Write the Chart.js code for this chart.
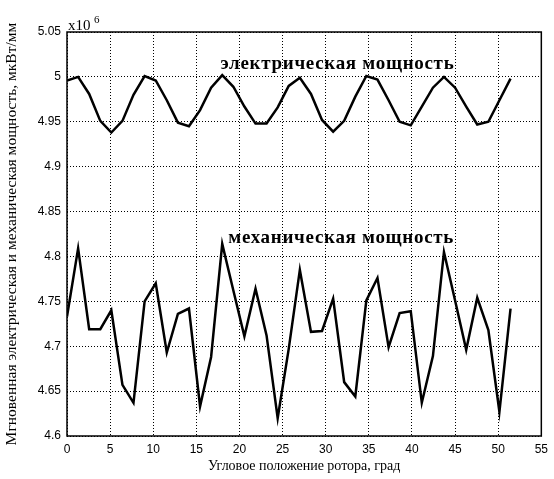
<!DOCTYPE html>
<html>
<head>
<meta charset="utf-8">
<script src="https://cdn.jsdelivr.net/npm/chart.js@4.4.1/dist/chart.umd.min.js"></script>
<style>
  html, body { margin: 0; padding: 0; background: #fff; }
  #wrap { width: 554px; height: 479px; }
</style>
</head>
<body>
<div id="wrap"><canvas id="chart-power"></canvas></div>
<script>
// rotor angle, deg
const angle = [0, 1.29, 2.57, 3.86, 5.14, 6.43, 7.71, 9.0, 10.29, 11.57, 12.86, 14.14, 15.43, 16.71,
    18.0, 19.29, 20.57, 21.86, 23.14, 24.43, 25.71, 27.0, 28.29, 29.57, 30.86, 32.14, 33.43, 34.71,
    36.0, 37.29, 38.57, 39.86, 41.14, 42.43, 43.71, 45.0, 46.29, 47.57, 48.86, 50.14, 51.43];

// x10^6
const electricPower = [4.996, 5.000, 4.981, 4.951, 4.938, 4.951, 4.980, 5.001, 4.996, 4.974, 4.949,
    4.945, 4.963, 4.988, 5.002, 4.989, 4.967, 4.948, 4.948, 4.966, 4.990, 4.999, 4.981, 4.952, 4.939,
    4.951, 4.978, 5.001, 4.997, 4.974, 4.950, 4.946, 4.967, 4.988, 5.000, 4.988, 4.967, 4.947, 4.950,
    4.974, 4.998];

const mechanicPower = [4.733, 4.809, 4.719, 4.719, 4.740, 4.657, 4.637, 4.750, 4.770, 4.693, 4.736,
    4.742, 4.633, 4.688, 4.814, 4.762, 4.711, 4.764, 4.712, 4.620, 4.697, 4.785, 4.716, 4.717, 4.753,
    4.660, 4.644, 4.751, 4.776, 4.699, 4.737, 4.739, 4.637, 4.689, 4.805, 4.751, 4.696, 4.754, 4.718,
    4.627, 4.742];

const seriesLabels = ["электрическая мощность", "механическая мощность"];

function toPoints(ys) {
    return angle.map((a, i) => ({ x: a, y: ys[i] }));
}

// frame, curve labels and the x10^6 multiplier
const decorations = {
    id: 'decorations',
    afterDraw(chart) {
        const ctx = chart.ctx;
        const area = chart.chartArea;
        const xs = chart.scales.x;
        const ys = chart.scales.y;
        ctx.save();
        ctx.strokeStyle = '#000';
        ctx.lineWidth = 1.5;
        ctx.strokeRect(area.left, area.top, area.right - area.left, area.bottom - area.top);

        ctx.fillStyle = '#000';
        ctx.font = 'bold 19px "Liberation Serif"';
        ctx.letterSpacing = '0.7px';
        ctx.textAlign = 'left';
        ctx.textBaseline = 'alphabetic';
        ctx.fillText(seriesLabels[0], xs.getPixelForValue(17.8), ys.getPixelForValue(5.009));
        ctx.fillText(seriesLabels[1], xs.getPixelForValue(18.7), ys.getPixelForValue(4.815));

        ctx.letterSpacing = '0px';
        ctx.font = '15px "Liberation Serif"';
        ctx.fillText('x10', area.left + 1, area.top - 2);
        ctx.font = '11px "Liberation Serif"';
        ctx.fillText('6', area.left + 27, area.top - 9);
        ctx.restore();
    }
};

const config_power_chart = {
    type: 'scatter',
    data: {
        datasets: [
            {
                label: seriesLabels[0],
                data: toPoints(electricPower),
                showLine: true,
                borderColor: '#000',
                borderWidth: 2.5,
                pointRadius: 0,
                tension: 0
            },
            {
                label: seriesLabels[1],
                data: toPoints(mechanicPower),
                showLine: true,
                borderColor: '#000',
                borderWidth: 2.5,
                pointRadius: 0,
                tension: 0
            }
        ]
    },
    plugins: [decorations],
    options: {
        responsive: true,
        maintainAspectRatio: false,
        animation: false,
        layout: {
            padding: { left: 0, top: 32, right: 11, bottom: 0 }
        },
        plugins: {
            legend: { display: false },
            tooltip: { enabled: false }
        },
        scales: {
            x: {
                type: 'linear',
                min: 0,
                max: 55,
                ticks: {
                    stepSize: 5,
                    color: '#000',
                    font: { family: 'Liberation Sans', size: 12 },
                    padding: 6,
                    maxRotation: 0
                },
                grid: { color: '#000', lineWidth: 1, drawTicks: false },
                border: { display: false, dash: [1, 2] },
                title: {
                    display: true,
                    text: 'Угловое положение ротора, град',
                    color: '#000',
                    font: { family: 'Liberation Serif', size: 14 },
                    padding: { top: 0, bottom: 4 }
                },
                afterFit: (axis) => { axis.height = 43; }
            },
            y: {
                type: 'linear',
                min: 4.6,
                max: 5.05,
                ticks: {
                    stepSize: 0.05,
                    color: '#000',
                    font: { family: 'Liberation Sans', size: 12 },
                    padding: 6,
                    callback: (v) => String(Number(v.toFixed(2)))
                },
                grid: { color: '#000', lineWidth: 1, drawTicks: false },
                border: { display: false, dash: [1, 2] },
                title: {
                    display: true,
                    text: 'Мгновенная электрическая и механическая мощность, мкВт/мм',
                    color: '#000',
                    font: { family: 'Liberation Serif', size: 15.5 },
                    padding: { top: 3, bottom: 0 }
                },
                afterFit: (axis) => { axis.width = 67; }
            }
        }
    }
};

var context_chart_power = document.getElementById("chart-power");
var chart_power = new Chart(context_chart_power, config_power_chart);
</script>
</body>
</html>
